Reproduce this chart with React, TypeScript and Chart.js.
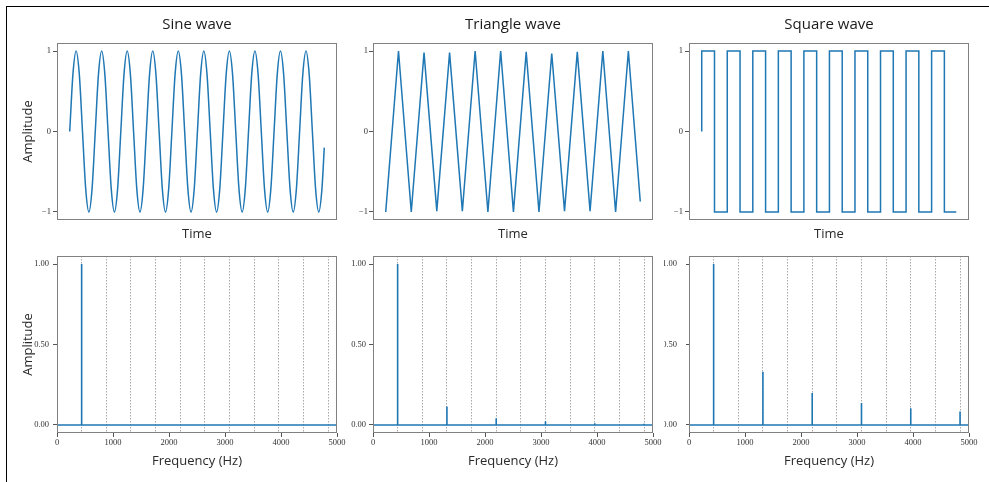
import { useEffect, useRef } from "react";
import { Chart, registerables } from "chart.js";

Chart.register(...registerables);

// ---------- data ----------
// time-domain signals (time in ms, 440 Hz tone)
const SINE_STEP_MS = 0.2841; // one eighth of a period
const SINE_END_MS = 22.65;
const sineValues = [
  0, 0.71, 1, 0.71, 0, -0.71, -1, -0.71,
  0, 0.71, 1, 0.71, 0, -0.71, -1, -0.71,
  0, 0.71, 1, 0.71, 0, -0.71, -1, -0.71,
  0, 0.71, 1, 0.71, 0, -0.71, -1, -0.71,
  0, 0.71, 1, 0.71, 0, -0.71, -1, -0.71,
  0, 0.71, 1, 0.71, 0, -0.71, -1, -0.71,
  0, 0.71, 1, 0.71, 0, -0.71, -1, -0.71,
  0, 0.71, 1, 0.71, 0, -0.71, -1, -0.71,
  0, 0.71, 1, 0.71, 0, -0.71, -1, -0.71,
  0, 0.71, 1, 0.71, 0, -0.71, -1, -0.71,
  -0.2,
];
const sineTimes = sineValues.map((_, i) =>
  i === sineValues.length - 1 ? SINE_END_MS : i * SINE_STEP_MS
);

const triangleTimes = [
  0, 1.136, 2.273, 3.409, 4.545, 5.682, 6.818, 7.955, 9.091, 10.227, 11.364,
  12.5, 13.636, 14.773, 15.909, 17.045, 18.182, 19.318, 20.455, 21.591, 22.65,
];
const triangleValues = [
  -1, 1, -1, 0.98, -0.99, 0.98, -0.99, 1, -1, 1, -1,
  0.99, -1, 0.97, -0.99, 0.99, -0.99, 1, -1, 1, -0.87,
];

const squareTimes = [
  0, 0, 1.136, 2.273, 3.409, 4.545, 5.682, 6.818, 7.955, 9.091, 10.227, 11.364,
  12.5, 13.636, 14.773, 15.909, 17.045, 18.182, 19.318, 20.455, 21.591, 22.65,
];
const squareValues = [
  0, 1, -1, 1, -1, 1, -1, 1, -1, 1, -1, 1,
  -1, 1, -1, 1, -1, 1, -1, 1, -1, -1,
];

// spectra
const FREQ_MAX_HZ = 5000;
const harmonicGridHz = [440, 880, 1320, 1760, 2200, 2640, 3080, 3520, 3960, 4400, 4840];
const sineSpecHz = [440];
const sineSpecAmp = [1.0];
const triangleSpecHz = [440, 1320, 2200, 3080, 3960, 4840];
const triangleSpecAmp = [1.0, 0.114, 0.041, 0.023, 0.011, 0.008];
const squareSpecHz = [440, 1320, 2200, 3080, 3960, 4840];
const squareSpecAmp = [1.0, 0.331, 0.199, 0.137, 0.104, 0.083];

const waveTicks = [-1, 0, 1];
const specTicks = [0, 0.5, 1];

// ---------- styles ----------
const FONT_SANS = "'Open Sans', 'Noto Sans', sans-serif";
const FONT_SERIF = "'Liberation Serif', 'DejaVu Serif', serif";
const LINE_BLUE = "#1f77b4";
const FRAME_COLOR = "#808080";
const TICK_COLOR = "#555555";
const LABEL_COLOR = "#2a2a2a";

type Pt = { x: number; y: number };

const pairs = (xs: number[], ys: number[]): Pt[] => xs.map((x, i) => ({ x, y: ys[i] }));

function spectrumPoints(freqs: number[], amps: number[]): Pt[] {
  const pts: Pt[] = [{ x: 0, y: 0 }];
  freqs.forEach((f, i) => {
    pts.push({ x: f, y: 0 }, { x: f, y: amps[i] }, { x: f, y: 0 });
  });
  pts.push({ x: FREQ_MAX_HZ, y: 0 });
  return pts;
}

const framePlugin = {
  id: "frame",
  afterDatasetsDraw(chart: any) {
    const { ctx, chartArea: a } = chart;
    ctx.save();
    ctx.strokeStyle = FRAME_COLOR;
    ctx.lineWidth = 1;
    ctx.strokeRect(Math.round(a.left) + 0.5, Math.round(a.top) + 0.5, Math.round(a.right - a.left) - 1, Math.round(a.bottom - a.top) - 1);
    ctx.restore();
  },
};

const FRAME_W = 280;
const RIGHT_PAD = 12;

function yTitle(show: boolean) {
  return show
    ? {
        display: true,
        text: "Amplitude",
        color: LABEL_COLOR,
        font: { family: FONT_SANS, size: 13 },
        padding: { top: 20, bottom: 0 },
      }
    : { display: false };
}

function waveConfig(o: {
  title: string;
  data: Pt[];
  yW: number;
  showY: boolean;
  yPad: number;
  stepped?: boolean;
  smooth?: boolean;
}): any {
  const tEnd = o.data[o.data.length - 1].x;
  return {
    type: "line",
    data: {
      datasets: [
        {
          data: o.data,
          xAxisID: "x",
          yAxisID: "y",
          borderColor: LINE_BLUE,
          borderWidth: 1.5,
          pointRadius: 0,
          fill: false,
          tension: 0,
          stepped: o.stepped ? "before" : false,
          cubicInterpolationMode: o.smooth ? "monotone" : "default",
        },
      ],
    },
    options: {
      responsive: false,
      animation: false,
      devicePixelRatio: 1,
      events: [],
      layout: { padding: { left: 0, right: RIGHT_PAD, top: 0, bottom: 0 } },
      plugins: {
        legend: { display: false },
        tooltip: { enabled: false },
        title: {
          display: true,
          text: o.title,
          fullSize: false,
          color: "#1a1a1a",
          font: { family: FONT_SANS, size: 15, weight: "normal" },
          padding: { top: 16, bottom: 9 },
        },
      },
      scales: {
        x: {
          type: "linear",
          min: -0.05 * tEnd,
          max: 1.05 * tEnd,
          ticks: { display: false },
          grid: { display: false },
          border: { display: false },
          title: {
            display: true,
            text: "Time",
            color: LABEL_COLOR,
            font: { family: FONT_SANS, size: 13 },
            padding: { top: 0, bottom: 8.2 },
          },
          afterFit: (s: any) => {
            s.height = 30;
          },
        },
        y: {
          type: "linear",
          min: -1.1,
          max: 1.1,
          afterBuildTicks: (s: any) => {
            s.ticks = waveTicks.map((v) => ({ value: v }));
          },
          ticks: {
            callback: (v: any) => (v < 0 ? "\u2212" + Math.abs(v) : String(v)),
            font: { family: FONT_SERIF, size: 8.5 },
            color: "#333",
            padding: o.yPad,
          },
          grid: { display: true, drawOnChartArea: false, drawTicks: true, tickLength: 4, color: TICK_COLOR },
          border: { display: false },
          title: yTitle(o.showY),
          afterFit: (s: any) => {
            s.width = o.yW;
            s.paddingTop = 0;
            s.paddingBottom = 0;
          },
        },
      },
    },
    plugins: [framePlugin],
  };
}

function specConfig(o: {
  data: Pt[];
  yW: number;
  showY: boolean;
  yPad: number;
  yTick: number;
}): any {
  return {
    type: "line",
    data: {
      datasets: [
        {
          data: o.data,
          xAxisID: "x",
          yAxisID: "y",
          borderColor: LINE_BLUE,
          borderWidth: 1.6,
          pointRadius: 0,
          fill: false,
          tension: 0,
        },
      ],
    },
    options: {
      responsive: false,
      animation: false,
      devicePixelRatio: 1,
      events: [],
      layout: { padding: { left: 0, right: RIGHT_PAD, top: 6, bottom: 0 } },
      plugins: {
        legend: { display: false },
        tooltip: { enabled: false },
        title: { display: false },
      },
      scales: {
        x: {
          type: "linear",
          min: 0,
          max: FREQ_MAX_HZ,
          ticks: {
            stepSize: 1000,
            autoSkip: false,
            maxRotation: 0,
            callback: (v: any) => String(v),
            font: { family: FONT_SERIF, size: 8.5 },
            color: "#333",
            padding: 1,
          },
          grid: { display: true, drawOnChartArea: false, drawTicks: true, tickLength: 4, color: TICK_COLOR },
          border: { display: false },
          title: {
            display: true,
            text: "Frequency (Hz)",
            color: LABEL_COLOR,
            font: { family: FONT_SANS, size: 13 },
            padding: { top: 0, bottom: 12.5 },
          },
          afterFit: (s: any) => {
            s.height = 49;
          },
        },
        xg: {
          type: "linear",
          axis: "x",
          position: "bottom",
          min: 0,
          max: FREQ_MAX_HZ,
          afterBuildTicks: (s: any) => {
            s.ticks = harmonicGridHz.map((v) => ({ value: v }));
          },
          ticks: { display: false },
          grid: { display: true, drawOnChartArea: true, drawTicks: false, color: "#a8a8a8", lineWidth: 1 },
          border: { display: false, dash: [1.5, 1.5] },
          afterFit: (s: any) => {
            s.height = 0;
          },
        },
        y: {
          type: "linear",
          min: -0.05,
          max: 1.05,
          afterBuildTicks: (s: any) => {
            s.ticks = specTicks.map((v) => ({ value: v }));
          },
          ticks: {
            callback: (v: any) => Number(v).toFixed(2),
            font: { family: FONT_SERIF, size: 8.5 },
            color: "#333",
            padding: o.yPad,
          },
          grid: { display: true, drawOnChartArea: false, drawTicks: true, tickLength: o.yTick, color: TICK_COLOR },
          border: { display: false },
          title: yTitle(o.showY),
          afterFit: (s: any) => {
            s.width = o.yW;
            s.paddingTop = 0;
            s.paddingBottom = 0;
          },
        },
      },
    },
    plugins: [framePlugin],
  };
}

function Panel(props: {
  left: number;
  top: number;
  width: number;
  height: number;
  clipLeft?: number;
  config: () => any;
}) {
  const ref = useRef<HTMLCanvasElement>(null);
  useEffect(() => {
    const chart = new Chart(ref.current as HTMLCanvasElement, props.config());
    return () => chart.destroy();
  }, []);
  const clip = props.clipLeft ?? props.left;
  return (
    <div
      style={{
        position: "absolute",
        left: clip,
        top: props.top,
        width: props.left + props.width - clip,
        height: props.height,
        overflow: "hidden",
      }}
    >
      <canvas
        ref={ref}
        width={props.width}
        height={props.height}
        style={{ position: "absolute", left: props.left - clip, top: 0, width: props.width, height: props.height }}
      />
    </div>
  );
}

const FRAME_LEFTS = [57, 373, 689];

export default function App() {
  const cols = [
    { yW: 57, showY: true },
    { yW: 36, showY: false },
    { yW: 36, showY: false },
  ];
  const waves = [
    { title: "Sine wave", data: pairs(sineTimes, sineValues), smooth: true, yPad: 2 },
    { title: "Triangle wave", data: pairs(triangleTimes, triangleValues), yPad: 1 },
    { title: "Square wave", data: pairs(squareTimes, squareValues), stepped: true, yPad: 2 },
  ];
  const specs = [
    { data: spectrumPoints(sineSpecHz, sineSpecAmp), yPad: 4, yTick: 4 },
    { data: spectrumPoints(triangleSpecHz, triangleSpecAmp), yPad: 3, yTick: 4 },
    { data: spectrumPoints(squareSpecHz, squareSpecAmp), yPad: 9, yTick: 3 },
  ];
  return (
    <div style={{ position: "absolute", left: 0, top: 0, width: 989, height: 482, background: "#fff", overflow: "hidden" }}>
      <div
        style={{
          position: "absolute",
          left: 6,
          top: 6,
          width: 989 - 6,
          height: 482 - 6,
          borderTop: "1px solid #000",
          borderLeft: "1px solid #000",
          boxSizing: "border-box",
        }}
      />
      {cols.map((c, i) => {
        const left = FRAME_LEFTS[i] - c.yW;
        const width = c.yW + FRAME_W + RIGHT_PAD;
        const w = waves[i];
        return (
          <Panel
            key={"w" + i}
            left={left}
            top={0}
            width={width}
            height={250}
            config={() => waveConfig({ ...w, yW: c.yW, showY: c.showY })}
          />
        );
      })}
      {cols.map((c, i) => {
        const left = FRAME_LEFTS[i] - c.yW;
        const width = c.yW + FRAME_W + RIGHT_PAD;
        const s = specs[i];
        return (
          <Panel
            key={"s" + i}
            left={left}
            top={250}
            width={width}
            height={232}
            clipLeft={i === 2 ? 664 : undefined}
            config={() => specConfig({ ...s, yW: c.yW, showY: c.showY })}
          />
        );
      })}
    </div>
  );
}
